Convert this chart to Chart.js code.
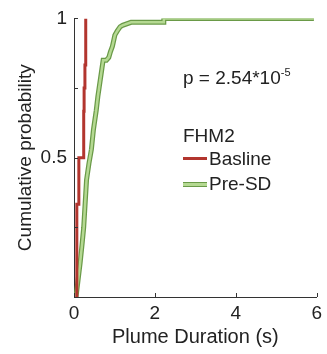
<!DOCTYPE html>
<html>
<head>
<meta charset="utf-8">
<script src="https://cdn.jsdelivr.net/npm/chart.js@4/dist/chart.umd.min.js"></script>
<style>
  html, body { margin: 0; padding: 0; background: #fff; }
  #wrap { position: relative; width: 327px; height: 354px; font-family: 'Liberation Sans', Arial, sans-serif; color: #222; }
  #wrap canvas { position: absolute; left: 0; top: 0; }
  .note { position: absolute; font-size: 19px; line-height: 19px; white-space: nowrap; }
  .note sup { font-size: 11px; vertical-align: 8px; line-height: 0; }
  .swatch { position: absolute; width: 24px; }
</style>
</head>
<body>
<div id="wrap">
  <canvas id="chart" width="327" height="354"></canvas>
  <div class="note" style="left:183px; top:68px;">p = 2.54*10<sup>-5</sup></div>
  <div class="note" style="left:183px; top:126px;">FHM2</div>
  <div class="swatch" style="left:183px; top:157px; height:3px; background:#b2352e;"></div>
  <div class="note" style="left:209px; top:149px;">Basline</div>
  <div class="swatch" style="left:183px; top:182px; height:3px; background:#b5d992; border-top:1px solid #6a9a48; border-bottom:1px solid #6a9a48;"></div>
  <div class="note" style="left:209px; top:174px;">Pre-SD</div>
</div>
<script>
// Basline (red) ECDF
const basX = [0.07, 0.07, 0.07, 0.07, 0.12, 0.12, 0.24, 0.24, 0.25, 0.27, 0.29, 0.29, 0.29];
const basY = [0, 0.083, 0.167, 0.25, 0.333, 0.417, 0.5, 0.583, 0.667, 0.75, 0.833, 0.917, 1];

// Pre-SD (green) curve
const preX = [0.05, 0.10, 0.15, 0.20, 0.24, 0.31, 0.37, 0.43, 0.48, 0.52, 0.55, 0.59, 0.62, 0.68, 0.72, 0.80, 0.86, 0.90, 0.95, 1.01, 1.07, 1.14, 1.20, 1.41, 2.22, 2.22, 5.93];
const preY = [0, 0.06, 0.12, 0.19, 0.25, 0.42, 0.48, 0.53, 0.60, 0.64, 0.67, 0.72, 0.75, 0.81, 0.85, 0.85, 0.86, 0.88, 0.90, 0.94, 0.955, 0.97, 0.975, 0.986, 0.986, 1, 1];

const xTicks = [0, 2, 4, 6];
const yTickValues = [0, 0.25, 0.5, 0.75, 1];
const yTickText = ['', '', '0.5', '', '1'];

const FONT = "'Liberation Sans', Arial, sans-serif";
const toPts = (xs, ys) => xs.map((x, i) => ({ x: x, y: ys[i] }));

// MATLAB style ticks pointing into the plot
const inwardTicks = {
  id: 'inwardTicks',
  afterDraw(chart) {
    const { ctx, scales: { x, y } } = chart;
    ctx.save();
    ctx.strokeStyle = '#333';
    ctx.lineWidth = 1;
    ctx.beginPath();
    xTicks.forEach(v => {
      const px = Math.round(x.getPixelForValue(v)) + 0.5;
      ctx.moveTo(px, y.bottom);
      ctx.lineTo(px, y.bottom - 4);
    });
    yTickValues.forEach(v => {
      const py = Math.round(y.getPixelForValue(v)) + 0.5;
      ctx.moveTo(x.left, py);
      ctx.lineTo(x.left + 4, py);
    });
    ctx.stroke();
    ctx.restore();
  }
};

new Chart(document.getElementById('chart'), {
  type: 'line',
  data: {
    datasets: [
      {
        label: 'Basline',
        data: toPts(basX, basY),
        borderColor: '#b2352e',
        borderWidth: 3,
        stepped: 'after',
        pointRadius: 0,
        order: 0
      },
      {
        label: 'Pre-SD',
        data: toPts(preX, preY),
        borderColor: '#b5d992',
        borderWidth: 2.5,
        pointRadius: 0,
        tension: 0,
        order: 1
      },
      {
        label: 'Pre-SD edge',
        data: toPts(preX, preY),
        borderColor: '#6a9a48',
        borderWidth: 5,
        pointRadius: 0,
        tension: 0,
        order: 2
      }
    ]
  },
  options: {
    responsive: false,
    animation: false,
    layout: { padding: { top: 18, right: 7, left: 0, bottom: 0 } },
    plugins: { legend: { display: false }, tooltip: { enabled: false } },
    scales: {
      x: {
        type: 'linear',
        min: 0,
        max: 6,
        grid: { display: false, drawTicks: false },
        border: { display: true, color: '#333', width: 1 },
        afterBuildTicks(s) { s.ticks = xTicks.map(v => ({ value: v })); },
        ticks: { padding: 5, color: '#222', font: { size: 19, family: FONT } },
        title: { display: true, text: 'Plume Duration (s)', color: '#222', font: { size: 20, family: FONT }, padding: { top: 0, bottom: 5 } },
        afterFit(s) { s.height = 57; }
      },
      y: {
        min: 0,
        max: 1,
        grid: { display: false, drawTicks: false },
        border: { display: true, color: '#333', width: 1 },
        afterBuildTicks(s) { s.ticks = yTickValues.map(v => ({ value: v })); },
        ticks: {
          padding: 7,
          color: '#222',
          font: { size: 19, family: FONT },
          callback: (v) => yTickText[yTickValues.indexOf(v)]
        },
        title: { display: true, text: 'Cumulative probability', color: '#222', font: { size: 19, family: FONT }, padding: { top: 14, bottom: 0 } },
        afterFit(s) { s.width = 74; }
      }
    }
  },
  plugins: [inwardTicks]
});
</script>
</body>
</html>
